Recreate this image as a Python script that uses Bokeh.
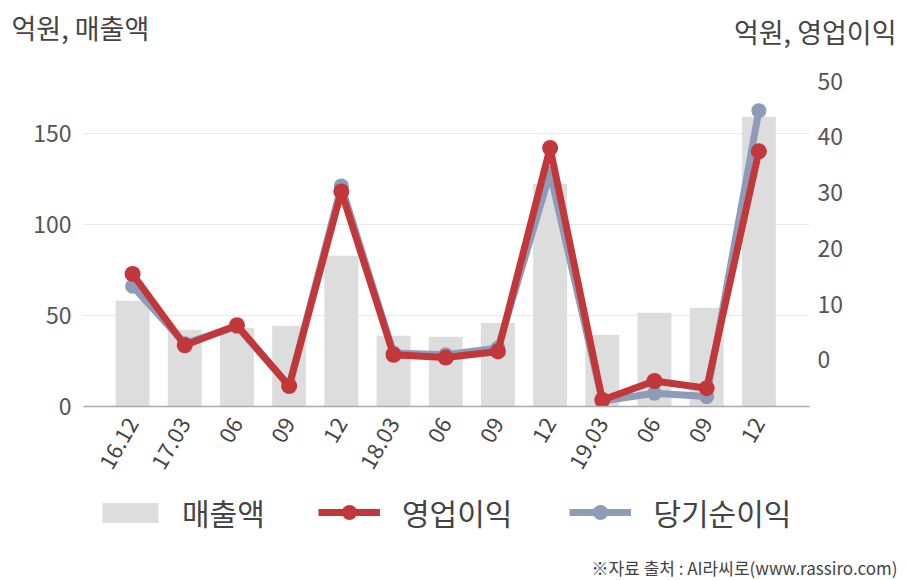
from bokeh.plotting import figure
from bokeh.layouts import column
from bokeh.models import (Range1d, LinearAxis, Legend, LegendItem, Label,
                          FixedTicker, ColumnDataSource, Plot)
from bokeh.embed import file_html
from bokeh.resources import INLINE

# ---- data ----
periods = ["16.12", "17.03", "06", "09", "12", "18.03", "06", "09", "12",
           "19.03", "06", "09", "12"]
sales = [58.2, 42.2, 43.2, 44.4, 83.0, 38.9, 38.4, 45.9, 122.5, 39.5, 51.6, 54.3, 159.5]
op_profit = [15.4, 2.6, 6.2, -4.7, 30.2, 0.9, 0.4, 1.5, 38.0, -7.2, -3.8, -5.1, 37.4]
net_profit = [13.2, 2.9, 6.0, -4.7, 31.2, 1.2, 0.9, 2.1, 33.5, -7.4, -6.0, -6.6, 44.7]
left_ticks = [0, 50, 100, 150]
right_ticks = [0, 10, 20, 30, 40, 50]
series_names = ["매출액", "영업이익", "당기순이익"]
left_unit = "억원, 매출액"
right_unit = "억원, 영업이익"
source_note = "※자료 출처 : AI라씨로(www.rassiro.com)"

FONT = "Noto Sans CJK KR"
RED = "#c1373a"
BLUE = "#8e9bb9"
BAR = "#dddddd"
TXT = "#444444"

HAS_FRAME_ALIGN = "frame_align" in Plot.properties()


def bare(height, x_range=(0, 1)):
    f = figure(width=908, height=height, output_backend="svg", toolbar_location=None,
               x_axis_location=None, y_axis_location=None,
               x_range=Range1d(*x_range), y_range=Range1d(0, 1), min_border=0)
    f.outline_line_color = None
    f.grid.visible = False
    if HAS_FRAME_ALIGN:
        f.frame_align = False
    return f


def style_legend(lg, glyph_w, glyph_h, standoff, spacing):
    lg.label_text_font = FONT
    lg.label_text_font_size = "30px"
    lg.label_text_color = TXT
    lg.glyph_width = glyph_w
    lg.glyph_height = glyph_h
    lg.label_standoff = standoff
    lg.spacing = spacing
    lg.padding = 0
    lg.margin = 0
    lg.border_line_color = None
    lg.background_fill_alpha = 0


# ---- header ----
head = bare(60)
head.add_layout(Label(x=11, y=33, x_units="screen", y_units="screen", text=left_unit,
                      text_font=FONT, text_font_size="27px", text_color=TXT,
                      text_baseline="middle"))
head.add_layout(Label(x=896, y=29, x_units="screen", y_units="screen", text=right_unit,
                      text_font=FONT, text_font_size="27px", text_color=TXT,
                      text_baseline="middle", text_align="right"))

# ---- main chart ----
idx = list(range(len(periods)))
src = ColumnDataSource(dict(x=idx, sales=sales, op=op_profit, net=net_profit))

p = figure(width=908, height=420, output_backend="svg", toolbar_location=None,
           x_range=Range1d(-0.94, 12.97), y_range=Range1d(0, 184.9),
           min_border_left=83, min_border_right=99, min_border_top=10,
           min_border_bottom=74)
p.outline_line_color = None
p.extra_y_ranges = {"right": Range1d(-8.38, 51.9)}

p.vbar(x="x", top="sales", width=0.65, source=src, fill_color=BAR, line_color=None)
p.line(x="x", y="net", source=src, line_color=BLUE, line_width=7, y_range_name="right")
p.scatter(x="x", y="net", source=src, size=15, fill_color=BLUE, line_color=None,
          y_range_name="right")
p.line(x="x", y="op", source=src, line_color=RED, line_width=7, y_range_name="right")
p.scatter(x="x", y="op", source=src, size=16, fill_color=RED, line_color=None,
          y_range_name="right")

p.xgrid.grid_line_color = None
p.ygrid.grid_line_color = "#e9e9e9"
p.ygrid.ticker = FixedTicker(ticks=left_ticks)

xa = p.xaxis[0]
xa.ticker = FixedTicker(ticks=idx)
xa.major_label_overrides = {i: s for i, s in enumerate(periods)}
xa.major_label_orientation = 1.05
xa.major_label_text_font = FONT
xa.major_label_text_font_size = "22px"
xa.major_label_text_color = TXT
xa.axis_line_color = "#aaaaaa"
xa.axis_line_width = 1.5
xa.major_tick_line_color = None
xa.minor_tick_line_color = None
xa.major_label_standoff = 7

ya = p.yaxis[0]
ya.ticker = FixedTicker(ticks=left_ticks)
ya.axis_line_color = None
ya.major_tick_line_color = None
ya.minor_tick_line_color = None
ya.major_label_text_font = FONT
ya.major_label_text_font_size = "23px"
ya.major_label_text_color = "#555555"
ya.major_label_standoff = 6

ra = LinearAxis(y_range_name="right", ticker=FixedTicker(ticks=right_ticks))
ra.axis_line_color = None
ra.major_tick_line_color = None
ra.minor_tick_line_color = None
ra.major_label_text_font = FONT
ra.major_label_text_font_size = "23px"
ra.major_label_text_color = "#555555"
ra.major_label_standoff = 2
p.add_layout(ra, "right")

# ---- footer: legends + source (proxy renderers lie outside the footer's view) ----
foot = bare(100, x_range=(-100, -99))
lb = foot.vbar(x="x", top="sales", width=0.5, source=src, fill_color=BAR, line_color=None)
lo1 = foot.line(x="x", y="op", source=src, line_color=RED, line_width=7)
lo2 = foot.scatter(x="x", y="op", source=src, size=16, fill_color=RED, line_color=None)
ln1 = foot.line(x="x", y="net", source=src, line_color=BLUE, line_width=7)
ln2 = foot.scatter(x="x", y="net", source=src, size=15, fill_color=BLUE, line_color=None)

legend_bar = Legend(items=[LegendItem(label=series_names[0], renderers=[lb])],
                    orientation="horizontal", location=(95, 46))
style_legend(legend_bar, 70, 25, 17, 0)
foot.add_layout(legend_bar, "center")

legend_lines = Legend(items=[
    LegendItem(label=series_names[1], renderers=[lo1, lo2]),
    LegendItem(label=series_names[2], renderers=[ln1, ln2]),
], orientation="horizontal", location=(318, 46))
style_legend(legend_lines, 62, 38, 22, 57)
foot.add_layout(legend_lines, "center")

foot.add_layout(Label(x=897, y=13, x_units="screen", y_units="screen", text=source_note,
                      text_font=FONT, text_font_size="17px", text_color=TXT,
                      text_baseline="middle", text_align="right"))

layout = column(head, p, foot, spacing=0)
open("out.html", "w").write(file_html(layout, INLINE))
